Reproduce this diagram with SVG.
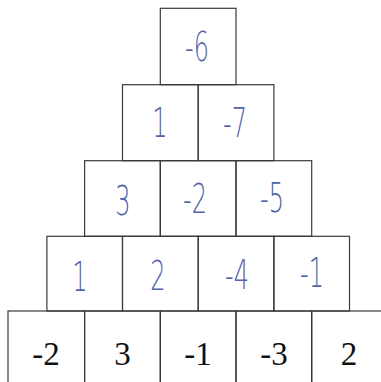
<svg xmlns="http://www.w3.org/2000/svg" width="381" height="382" viewBox="0 0 381 382">
<style>
.cell{fill:none;stroke:#3a3a3a;stroke-width:1.2}
.hw{font-family:"DejaVu Sans","Liberation Sans",sans-serif;font-weight:200;font-size:40px;fill:#5262a8;text-anchor:middle}
.pr{font-family:"Liberation Serif","Times New Roman",serif;font-size:33px;fill:#111;text-anchor:middle}
</style>
<rect width="381" height="382" fill="#fff"/>
<g id="row1">
<g id="c1-1"><rect class="cell" x="160.3" y="8.3" width="75.7" height="76.4"/><text class="hw" transform="translate(197,61) scale(0.6,1)">-6</text></g>
</g>
<g id="row2">
<g id="c2-1"><rect class="cell" x="122.5" y="84.7" width="75.7" height="76"/><text class="hw" transform="translate(160,137) scale(0.6,1)">1</text></g>
<g id="c2-2"><rect class="cell" x="198.2" y="84.7" width="75.7" height="76"/><text class="hw" transform="translate(235,137) scale(0.6,1)">-7</text></g>
</g>
<g id="row3">
<g id="c3-1"><rect class="cell" x="84.6" y="160.7" width="75.7" height="75.6"/><text class="hw" transform="translate(123,215) scale(0.6,1)">3</text></g>
<g id="c3-2"><rect class="cell" x="160.3" y="160.7" width="75.7" height="75.6"/><text class="hw" transform="translate(195,213) scale(0.6,1)">-2</text></g>
<g id="c3-3"><rect class="cell" x="236" y="160.7" width="75.7" height="75.6"/><text class="hw" transform="translate(272,212) scale(0.6,1)">-5</text></g>
</g>
<g id="row4">
<g id="c4-1"><rect class="cell" x="46.9" y="236.3" width="75.6" height="74.7"/><text class="hw" transform="translate(80,291) scale(0.6,1)">1</text></g>
<g id="c4-2"><rect class="cell" x="122.5" y="236.3" width="75.7" height="74.7"/><text class="hw" transform="translate(158,290) scale(0.6,1)">2</text></g>
<g id="c4-3"><rect class="cell" x="198.2" y="236.3" width="75.7" height="74.7"/><text class="hw" transform="translate(237,289) scale(0.6,1)">-4</text></g>
<g id="c4-4"><rect class="cell" x="273.9" y="236.3" width="75.6" height="74.7"/><text class="hw" transform="translate(312,287) scale(0.6,1)">-1</text></g>
</g>
<g id="row5">
<g id="c5-1"><rect class="cell" x="8" y="311" width="76.6" height="80"/><text class="pr" x="46" y="365">-2</text></g>
<g id="c5-2"><rect class="cell" x="84.6" y="311" width="75.7" height="80"/><text class="pr" x="122.5" y="365">3</text></g>
<g id="c5-3"><rect class="cell" x="160.3" y="311" width="75.7" height="80"/><text class="pr" x="198" y="365">-1</text></g>
<g id="c5-4"><rect class="cell" x="236" y="311" width="75.7" height="80"/><text class="pr" x="274" y="365">-3</text></g>
<g id="c5-5"><rect class="cell" x="311.7" y="311" width="75.7" height="80"/><text class="pr" x="349" y="365">2</text></g>
</g>
<g id="connectors"/>
</svg>
